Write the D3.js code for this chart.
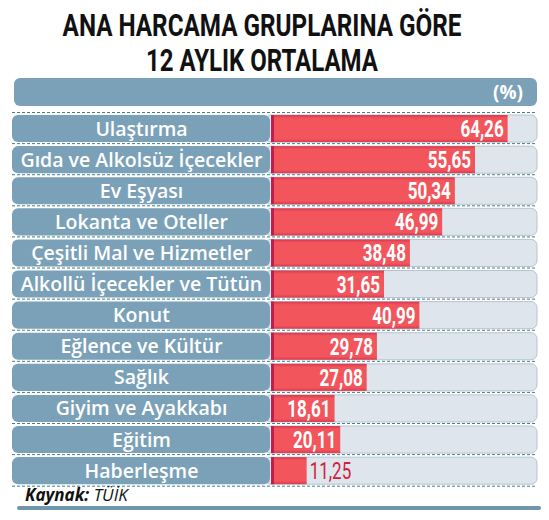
<!DOCTYPE html>
<html>
<head>
<meta charset="utf-8">
<script src="https://cdn.jsdelivr.net/npm/d3@7"></script>
<style>
  body { margin: 0; background: #fff; }
</style>
</head>
<body>
<div id="chart"></div>
<script>
// values
const categories = [
    "Ulaştırma",
    "Gıda ve Alkolsüz İçecekler",
    "Ev Eşyası",
    "Lokanta ve Oteller",
    "Çeşitli Mal ve Hizmetler",
    "Alkollü İçecekler ve Tütün",
    "Konut",
    "Eğlence ve Kültür",
    "Sağlık",
    "Giyim ve Ayakkabı",
    "Eğitim",
    "Haberleşme"
];
const values = [64.26, 55.65, 50.34, 46.99, 38.48, 31.65, 40.99, 29.78, 27.08, 18.61, 20.11, 11.25];
const titleLines = ["ANA HARCAMA GRUPLARINA GÖRE", "12 AYLIK ORTALAMA"];
const unitLabel = "(%)";

const width = 549;
const height = 520;

const data = categories.map((name, i) => ({ name: name, value: values[i] }));

const svg = d3.select("#chart").append("svg")
    .attr("width", width)
    .attr("height", height);

const defs = svg.append("defs");
const grad = defs.append("linearGradient")
    .attr("id", "barGrad")
    .attr("x1", 0).attr("y1", 0).attr("x2", 0).attr("y2", 1);
grad.append("stop").attr("offset", "0%").attr("stop-color", "#d8374f");
grad.append("stop").attr("offset", "12%").attr("stop-color", "#f2555c");
grad.append("stop").attr("offset", "88%").attr("stop-color", "#f2555c");
grad.append("stop").attr("offset", "100%").attr("stop-color", "#d93a50");

const labelX0 = 12;
const trackX0 = 271;
const trackX1 = 537;
const condensed = "Roboto, 'DejaVu Sans', sans-serif";

const x = d3.scaleLinear()
    .domain([0, 72])
    .range([264, trackX1]);

const y = d3.scaleBand()
    .domain(categories)
    .range([113, 486.2])
    .paddingInner(0.13)
    .paddingOuter(0.065);

// title, squeezed horizontally to look like a condensed face
const titleWidths = [399, 232];
svg.append("g")
    .selectAll("text")
    .data(titleLines)
    .join("text")
    .attr("text-anchor", "middle")
    .attr("font-family", condensed)
    .attr("font-weight", "bold")
    .attr("font-size", 32)
    .attr("fill", "#111")
    .text(d => d)
    .attr("transform", function (d, i) {
        const w = this.getComputedTextLength();
        return `translate(262,${36 + i * 35}) scale(${titleWidths[i] / w},1)`;
    });

// header bar
svg.append("rect")
    .attr("x", 14)
    .attr("y", 78)
    .attr("width", trackX1 - 14)
    .attr("height", 28)
    .attr("rx", 6)
    .attr("fill", "#7ba1b8");

svg.append("text")
    .attr("x", 523)
    .attr("y", 99)
    .attr("text-anchor", "end")
    .attr("font-family", "'Open Sans', sans-serif")
    .attr("font-weight", "bold")
    .attr("font-size", 19)
    .attr("fill", "#fff")
    .text(unitLabel);

// dashed separators
const sepY = categories.map(c => y(c) - 2.5).concat([y(categories[categories.length - 1]) + y.bandwidth() + 2]);
svg.append("g")
    .selectAll("line")
    .data(sepY)
    .join("line")
    .attr("x1", labelX0)
    .attr("x2", trackX1)
    .attr("y1", d => d)
    .attr("y2", d => d)
    .attr("stroke", "#3f7f88")
    .attr("stroke-width", 1)
    .attr("stroke-dasharray", "3,2");

const row = svg.append("g")
    .selectAll("g")
    .data(data)
    .join("g")
    .attr("transform", d => `translate(0,${y(d.name)})`);

// track
row.append("rect")
    .attr("x", trackX0 - 6)
    .attr("y", 0)
    .attr("width", trackX1 - trackX0 + 6)
    .attr("height", y.bandwidth())
    .attr("rx", 6)
    .attr("fill", "#dfe5ec")
    .attr("stroke", "#b7c3ce")
    .attr("stroke-width", 1);

// red bar
row.append("rect")
    .attr("x", trackX0)
    .attr("y", 0)
    .attr("width", d => x(d.value) - trackX0)
    .attr("height", y.bandwidth())
    .attr("fill", "url(#barGrad)");

row.append("rect")
    .attr("x", trackX0)
    .attr("y", 0)
    .attr("width", 3)
    .attr("height", y.bandwidth())
    .attr("fill", "#c21d48");

// label box
row.append("rect")
    .attr("x", labelX0)
    .attr("y", 0)
    .attr("width", trackX0 - 1 - labelX0)
    .attr("height", y.bandwidth())
    .attr("rx", 6)
    .attr("fill", "#7ba1b8");

row.append("text")
    .attr("x", (labelX0 + trackX0) / 2)
    .attr("y", y.bandwidth() / 2 + 7)
    .attr("text-anchor", "middle")
    .attr("font-family", "'Open Sans', sans-serif")
    .attr("font-weight", 600)
    .attr("font-size", 19.5)
    .attr("fill", "#fff")
    .text(d => d.name);

// value labels
const inside = d => x(d.value) - trackX0 > 52;
row.append("text")
    .attr("text-anchor", d => inside(d) ? "end" : "start")
    .attr("font-family", condensed)
    .attr("font-weight", d => inside(d) ? "bold" : "normal")
    .attr("font-size", 23)
    .attr("fill", d => inside(d) ? "#fff" : "#d0203c")
    .attr("transform", d => {
        const px = inside(d) ? x(d.value) - 4 : x(d.value) + 3;
        return `translate(${px},${y.bandwidth() / 2 + 8.5}) scale(0.74,1)`;
    })
    .text(d => d.value.toFixed(2).replace(".", ","));

// source
const src = svg.append("text")
    .attr("x", 25)
    .attr("y", 501)
    .attr("font-family", "'Open Sans', sans-serif")
    .attr("font-style", "italic")
    .attr("font-size", 17)
    .attr("fill", "#111");
src.append("tspan").attr("font-weight", "bold").text("Kaynak: ");
src.append("tspan").text("TÜİK");

svg.append("line")
    .attr("x1", 19)
    .attr("x2", 539)
    .attr("y1", 508)
    .attr("y2", 508)
    .attr("stroke", "#6f96ad")
    .attr("stroke-width", 4)
    .attr("stroke-linecap", "round");
</script>
</body>
</html>
